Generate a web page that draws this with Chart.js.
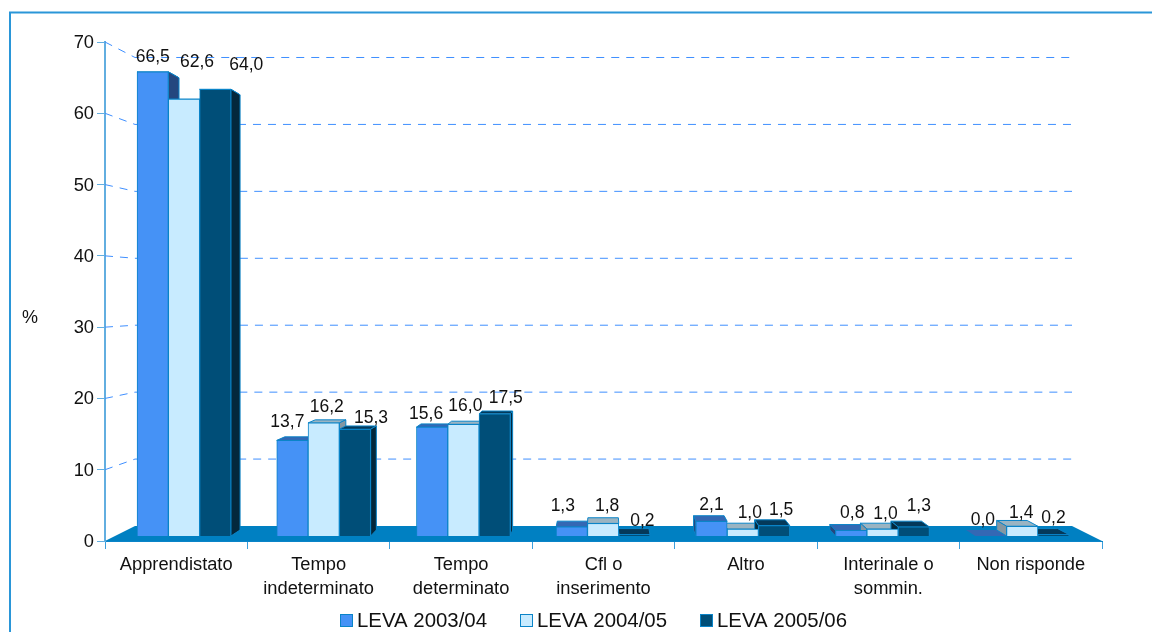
<!DOCTYPE html>
<html lang="it">
<head>
<meta charset="utf-8">
<title>Contratti per leva</title>
<style>html,body{margin:0;padding:0;background:#fff}canvas{display:block}</style>
<script src="https://cdn.jsdelivr.net/npm/chart.js@4"></script>
</head>
<body>
<canvas id="c" width="1152" height="632"></canvas>
<script>
const categories = [
  ["Apprendistato"],
  ["Tempo", "indeterminato"],
  ["Tempo", "determinato"],
  ["Cfl o", "inserimento"],
  ["Altro"],
  ["Interinale o", "sommin."],
  ["Non risponde"]
];
const seriesNames = ["LEVA 2003/04", "LEVA 2004/05", "LEVA 2005/06"];
const leva0304 = [66.5, 13.7, 15.6, 1.3, 2.1, 0.8, 0.0];
const leva0405 = [62.6, 16.2, 16.0, 1.8, 1.0, 1.0, 1.4];
const leva0506 = [64.0, 15.3, 17.5, 0.2, 1.5, 1.3, 0.2];
const axisTitle = "%";

const FONT = '"Liberation Sans", Arial, sans-serif';
const AREA = {left: 105, right: 1102, top: 42, bottom: 541};
const VP_X = 603.5;
const DEPTH_K = 0.0245;
const WALL_LEFT = 135, WALL_RIGHT = 1072;
const looks = [
  {front: '#4592F6', top: '#3468B4', side: '#24477F'},
  {front: '#C8EBFF', top: '#9AB4C2', side: '#8497A2'},
  {front: '#004E78', top: '#04395A', side: '#03283C'}
];
const EDGE = '#0A84C8';
// label nudges from each bar's top centre [series][category]
const labelDx = [
  [0, -5, -6, -9, 0, 1, -8],
  [13, 3, 2, 4, 7, 3, -1],
  [31, 16, 11, 8, 7, 5, 0]
];
const labelDy = [
  [-16, -19, -14, -22, -17, -18, -17],
  [-38, -17, -19, -18, -17, -16, -14],
  [-25, -12, -17, -14, -16, -22, -17]
];

const valuesBySeries = [leva0304, leva0405, leva0506];
const fmt = v => v.toFixed(1).replace('.', ',');

function shift(x) { return (VP_X - x) * DEPTH_K; }

const scenePlugin = {
  id: 'scene',
  beforeDatasetsDraw(chart) {
    const ctx = chart.ctx, sc = chart.scales;
    ctx.save();
    // outer frame
    ctx.strokeStyle = '#2A96D8';
    ctx.lineWidth = 2;
    ctx.beginPath();
    ctx.moveTo(10, 632); ctx.lineTo(10, 12.5); ctx.lineTo(1152, 12.5);
    ctx.stroke();
    // back wall grid + receding dashes
    ctx.strokeStyle = '#3F8FFF';
    ctx.lineWidth = 1;
    ctx.setLineDash([8, 7]);
    sc.y.ticks.forEach(t => {
      if (t.value === 0) return;
      const y0 = sc.y.getPixelForValue(t.value);
      const y1 = sc.yWall.getPixelForValue(t.value);
      ctx.beginPath();
      ctx.moveTo(AREA.left, y0); ctx.lineTo(WALL_LEFT, y1); ctx.lineTo(WALL_RIGHT, y1);
      ctx.stroke();
    });
    ctx.setLineDash([]);
    // floor
    const fy0 = sc.y.getPixelForValue(0), fy1 = sc.yWall.getPixelForValue(0);
    ctx.fillStyle = '#0080C2';
    ctx.beginPath();
    ctx.moveTo(AREA.left, fy0); ctx.lineTo(AREA.right, fy0);
    ctx.lineTo(WALL_RIGHT, fy1); ctx.lineTo(WALL_LEFT, fy1);
    ctx.closePath(); ctx.fill();
    // 3D faces of bars
    ctx.lineWidth = 1;
    chart.data.datasets.forEach((ds, si) => {
      const meta = chart.getDatasetMeta(si);
      meta.data.forEach((bar, ci) => {
        const v = valuesBySeries[si][ci];
        const half = bar.width / 2;
        const x1 = bar.x - half, x2 = bar.x + half;
        const yF = sc.yBars.getPixelForValue(v), yB = sc.yDepth.getPixelForValue(v);
        const yF0 = sc.yBars.getPixelForValue(0), yB0 = sc.yDepth.getPixelForValue(0);
        const bx1 = x1 + shift(x1), bx2 = x2 + shift(x2);
        ctx.strokeStyle = EDGE;
        // top
        ctx.fillStyle = looks[si].top;
        ctx.beginPath();
        ctx.moveTo(x1, yF); ctx.lineTo(x2, yF); ctx.lineTo(bx2, yB); ctx.lineTo(bx1, yB);
        ctx.closePath(); ctx.fill(); if (v > 0) ctx.stroke();
        // visible side
        ctx.fillStyle = looks[si].side;
        const sx = x2 < VP_X ? x2 : (x1 > VP_X ? x1 : null);
        if (sx !== null && v > 0) {
          const bsx = sx + shift(sx);
          ctx.beginPath();
          ctx.moveTo(sx, yF); ctx.lineTo(bsx, yB); ctx.lineTo(bsx, yB0); ctx.lineTo(sx, yF0);
          ctx.closePath(); ctx.fill(); ctx.stroke();
        }
      });
    });
    ctx.restore();
  },
  afterDatasetsDraw(chart) {
    const ctx = chart.ctx;
    ctx.save();
    ctx.fillStyle = '#111';
    ctx.textAlign = 'center';
    ctx.textBaseline = 'middle';
    ctx.font = '17.5px ' + FONT;
    chart.data.datasets.forEach((ds, si) => {
      chart.getDatasetMeta(si).data.forEach((bar, ci) => {
        const v = valuesBySeries[si][ci];
        ctx.fillText(fmt(v), bar.x + labelDx[si][ci], chart.scales.yBars.getPixelForValue(v) + labelDy[si][ci] + 1);
      });
    });
    // axis title
    ctx.font = '18px ' + FONT;
    ctx.fillText(axisTitle, 30, 318);
    // legend
    ctx.font = '20.4px ' + FONT;
    ctx.textAlign = 'left';
    let lx = 340;
    seriesNames.forEach((name, i) => {
      ctx.fillStyle = looks[i].front;
      ctx.strokeStyle = EDGE;
      ctx.lineWidth = 1;
      ctx.fillRect(lx, 614, 13, 13);
      ctx.strokeRect(lx + 0.5, 614.5, 12, 12);
      ctx.fillStyle = '#111';
      ctx.fillText(name, lx + 17, 621);
      lx += 180;
    });
    ctx.restore();
  }
};

const mkData = vals => vals.map((y, x) => ({x, y}));

new Chart(document.getElementById('c'), {
  type: 'bar',
  data: {
    labels: categories,
    datasets: seriesNames.map((name, i) => ({
      label: name,
      data: mkData(valuesBySeries[i]),
      xAxisID: 'xBars',
      yAxisID: 'yBars',
      backgroundColor: looks[i].front,
      borderColor: EDGE,
      borderWidth: 1,
      barThickness: 31.3
    }))
  },
  plugins: [scenePlugin],
  options: {
    responsive: false,
    animation: false,
    events: [],
    layout: {padding: {left: 0, right: 1152 - AREA.right, top: AREA.top, bottom: 0}},
    plugins: {legend: {display: false}, title: {display: false}, tooltip: {enabled: false}},
    scales: {
      x: {
        type: 'category',
        offset: true,
        position: 'bottom',
        afterFit(s) { s.height = 632 - AREA.bottom; },
        border: {display: true, color: '#0A84C8', width: 1},
        grid: {display: true, offset: true, drawOnChartArea: false, drawTicks: true, tickLength: 8, color: '#3C9FDC'},
        ticks: {
          autoSkip: false, maxRotation: 0, minRotation: 0, padding: 4,
          color: '#111', font: {family: FONT, size: 18.3, lineHeight: 1.311}
        }
      },
      y: {
        type: 'linear',
        position: 'left',
        min: 0, max: 70,
        afterFit(s) { s.width = AREA.left; },
        border: {display: true, color: '#62AEE0', width: 2},
        grid: {display: true, drawOnChartArea: false, drawTicks: true, tickLength: 8, color: '#62AEE0'},
        ticks: {stepSize: 10, padding: 3, labelOffset: 1, color: '#111', font: {family: FONT, size: 18.3}}
      },
      xBars: {type: 'linear', axis: 'x', display: false, offset: false, min: -0.5655, max: 6.5712},
      yBars: {type: 'linear', axis: 'y', display: false, min: -0.7163, max: 70.774},
      yWall: {type: 'linear', axis: 'y', display: false, min: -2.2405, max: 72.315},
      yDepth: {type: 'linear', axis: 'y', display: false, min: -1.6176, max: 71.765}
    }
  }
});
</script>
</body>
</html>
